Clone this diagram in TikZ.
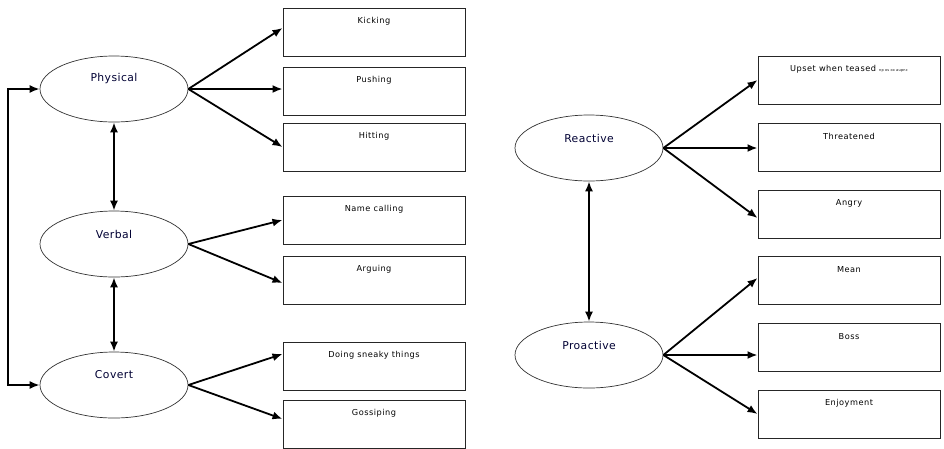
\documentclass[tikz,border=0pt]{standalone}
\usepackage{fontspec}
\setmainfont{DejaVu Sans}
\usetikzlibrary{arrows.meta,shapes.geometric}
\tikzset{
  ell/.style={draw=black!80, line width=0.7pt, ellipse, minimum width=148pt, minimum height=66pt, inner sep=0pt,
    label={[font=\fontsize{10.8}{12}\selectfont\addfontfeature{LetterSpace=4}, text=black!80!blue, yshift=10pt]center:#1}},
  box/.style={draw=black!85, line width=1pt, rectangle, minimum width=182pt, minimum height=48pt, inner sep=0pt,
    label={[font=\fontsize{8.2}{9}\selectfont\addfontfeature{LetterSpace=6}, anchor=center, yshift=-14pt]north:#1}},
  arr/.style={-{Latex[length=10pt,width=8pt]}, line width=1.8pt},
  darr/.style={{Latex[length=10pt,width=8pt]}-{Latex[length=10pt,width=8pt]}, line width=1.8pt},
}
\begin{document}
\begin{tikzpicture}[x=1pt,y=-1pt]
\useasboundingbox (0,0) rectangle (944,448);
% left ellipses
\node[ell=Physical] (phy) at (114,89) {};
\node[ell=Verbal] (ver) at (114,244) {};
\node[ell=Covert] (cov) at (114,385) {};
% left boxes
\node[box=Kicking] (kick) at (374,32) {};
\node[box=Pushing] (push) at (374,91) {};
\node[box=Hitting] (hit) at (374,147) {};
\node[box={Name calling}] (name) at (374,220) {};
\node[box=Arguing] (argu) at (374,280) {};
\node[box={Doing sneaky things}] (sneak) at (374,366) {};
\node[box=Gossiping] (goss) at (374,424) {};
% right ellipses
\node[ell=Reactive] (rea) at (589,148) {};
\node[ell=Proactive] (pro) at (589,355) {};
% right boxes
\node[box={Upset when teased {\fontsize{3.5}{4}\selectfont np os ox aupnc}}] (ups) at (849,80) {};
\node[box=Threatened] (thr) at (849,147) {};
\node[box=Angry] (ang) at (849,214) {};
\node[box=Mean] (mean) at (849,280) {};
\node[box=Boss] (boss) at (849,347) {};
\node[box=Enjoyment] (enj) at (849,414) {};
% connectors
\draw[arr] (phy.east) -- ([yshift=4pt]kick.west);
\draw[arr] (phy.east) -- (phy.east -| push.west);
\draw[arr] (phy.east) -- (hit.west);
\draw[arr] (ver.east) -- (name.west);
\draw[arr] (ver.east) -- ([yshift=-3pt]argu.west);
\draw[arr] (cov.east) -- ([yshift=12pt]sneak.west);
\draw[arr] (cov.east) -- ([yshift=5pt]goss.west);
\draw[darr] (phy.south) -- (ver.north);
\draw[darr] (ver.south) -- (cov.north);
\draw[darr] (phy.west) -- ++(-32,0) |- (cov.west);
\draw[arr] (rea.east) -- (ups.west);
\draw[arr] (rea.east) -- (rea.east -| thr.west);
\draw[arr] (rea.east) -- ([yshift=-4pt]ang.west);
\draw[arr] (pro.east) -- ([yshift=2pt]mean.west);
\draw[arr] (pro.east) -- (pro.east -| boss.west);
\draw[arr] (pro.east) -- (enj.west);
\draw[darr] (rea.south) -- (pro.north);
\end{tikzpicture}
\end{document}
